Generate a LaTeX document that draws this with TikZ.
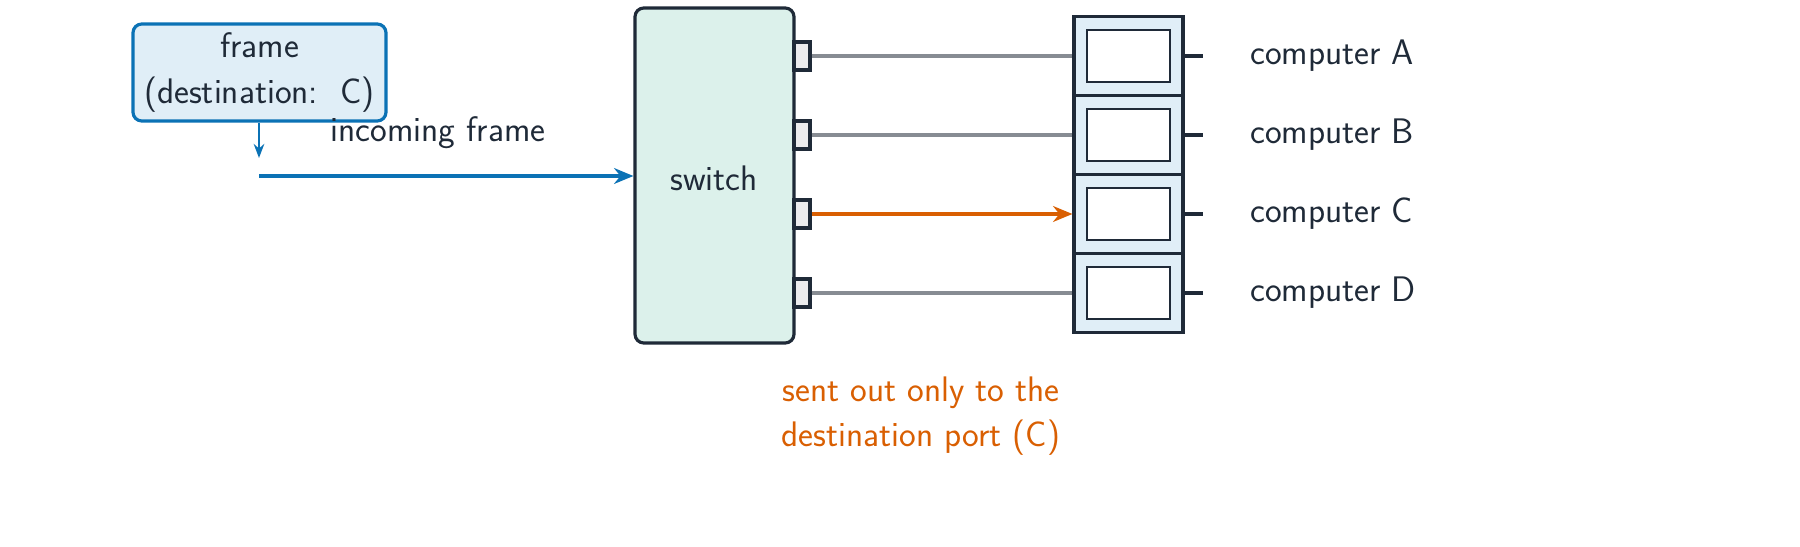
\documentclass[tikz,border=0pt]{standalone}
\usetikzlibrary{arrows.meta}
\definecolor{ink}{HTML}{1F2A38}
\definecolor{blu}{HTML}{0B72B5}
\definecolor{bluf}{HTML}{E0EEF7}
\definecolor{grnf}{HTML}{DCF1EB}
\definecolor{org}{HTML}{D95F02}
\definecolor{gry}{HTML}{878C93}
\definecolor{portf}{HTML}{ECECEE}
\begin{document}
\begin{tikzpicture}[x=0.02cm,y=-0.02cm,
  every node/.style={font=\sffamily\fontsize{20.2}{26}\selectfont,text=ink},
  box/.style={draw=ink,line width=1.8pt,rounded corners=5pt},
  port/.style={draw=ink,fill=portf,line width=1.8pt},
  comp/.style={draw=ink,fill=bluf,line width=1.8pt},
  scr/.style={draw=ink,fill=white,line width=1.5pt},
  wire/.style={gry,line width=1.8pt},
  lbl/.style={anchor=west}]
\useasboundingbox (0,0) rectangle (1800,547);
\node[draw=blu,fill=bluf,line width=1.8pt,rounded corners=5pt,minimum width=253*0.02cm,minimum height=97*0.02cm,align=center] (frame) at (259.5,72.5) {frame\\(destination:\ \ C)};
\coordinate (fa) at (259,158);
\draw[blu,line width=1.5pt,-{Stealth[length=8pt]}] (frame.south -| fa) -- (fa);
\node[box,fill=grnf,minimum width=159*0.02cm,minimum height=335*0.02cm] (sw) at (714.5,175.5) {};
\node at (714,178) {switch};
\coordinate (in) at (259,176);
\draw[blu,line width=2.6pt,-{Stealth[length=11pt,width=9pt]}] (in) -- (sw.west |- in);
\node at (438,133) (inl) {incoming frame};
\foreach \n/\y/\l in {A/56/computer A,B/135/computer B,C/214/computer C,D/293/computer D}{
  \node[port,minimum width=16*0.02cm,minimum height=28*0.02cm,inner sep=0pt] (p\n) at (802,\y) {};
  \node[comp,minimum width=109*0.02cm,minimum height=79*0.02cm,inner sep=0pt] (c\n) at (1128.5,\y) {};
  \node[scr,minimum width=83*0.02cm,minimum height=52*0.02cm,inner sep=0pt] (s\n) at (1128.5,\y) {};
  \coordinate (t\n) at (1203,\y);
  \draw[ink,line width=1.8pt] (c\n.east) -- (t\n);
  \node[lbl] (l\n) at (1244,\y) {\l};
}
\draw[wire] (pA.east) -- (cA.west);
\draw[wire] (pB.east) -- (cB.west);
\draw[wire] (pD.east) -- (cD.west);
\draw[org,line width=2.6pt,-{Stealth[length=11pt,width=9pt]}] (pC.east) -- (cC.west);
\node[text=org,align=center] (sent) at (921,416) {\color{org}sent out only to the\\\color{org}destination port (C)};
\end{tikzpicture}
\end{document}
